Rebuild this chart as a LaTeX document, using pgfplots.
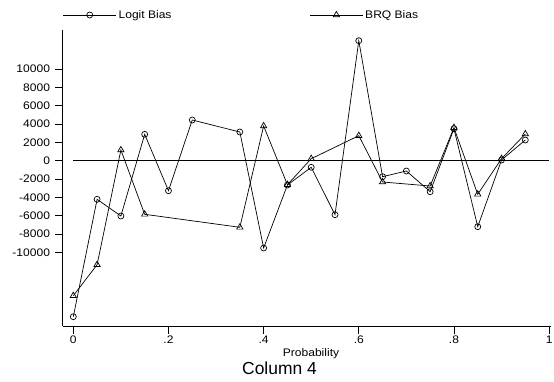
\documentclass[border=0pt]{standalone}
\usepackage{pgfplots}
\pgfplotsset{compat=1.18}
\usepackage{pgfplotstable}
\usepackage{fontspec}
\setmainfont{Liberation Sans}
\newfontfamily\sm[FakeStretch=1.1]{Liberation Sans}

\pgfplotstableread{
x y
0.00 -17012
0.05 -4210
0.10 -6031
0.15 2879
0.20 -3272
0.25 4438
0.35 3130
0.40 -9520
0.45 -2650
0.50 -720
0.55 -5890
0.60 13086
0.65 -1745
0.70 -1123
0.75 -3380
0.80 3490
0.85 -7197
0.90 76
0.95 2257
}\logit

\pgfplotstableread{
x y
0.00 -14722
0.05 -11341
0.10 1167
0.15 -5845
0.35 -7263
0.40 3784
0.45 -2617
0.50 218
0.60 2726
0.65 -2323
0.75 -2759
0.80 3599
0.85 -3664
0.90 218
0.95 2912
}\brq

\begin{document}
\begin{tikzpicture}[x=1bp,y=1bp]
\useasboundingbox (0,0) rectangle (554,381);
\begin{axis}[
  at={(62.7bp,55bp)}, anchor=south west,
  scale only axis, width=488.3bp, height=296bp,
  xmin=-0.0223, xmax=1.004, ymin=-18026, ymax=14253,
  scaled y ticks=false, scaled x ticks=false,
  axis x line*=bottom, axis y line*=left,
  axis line style={-, line width=0.8bp, black},
  tick align=outside, major tick length=7.5bp,
  tick style={line width=0.8bp, black},
  xtick={0,0.2,0.4,0.6,0.8,1},
  xticklabels={0,.2,.4,.6,.8,1},
  ytick={-10000,-8000,-6000,-4000,-2000,0,2000,4000,6000,8000,10000},
  yticklabels={-10000,-8000,-6000,-4000,-2000,0,2000,4000,6000,8000,10000},
  tick label style={font=\sm\fontsize{11}{13}\selectfont},
  yticklabel style={inner sep=0pt, xshift=-5bp},
  xticklabel style={inner sep=0pt, yshift=-2bp},
  xlabel={Probability},
  x label style={at={(axis description cs:0.5085,0)}, anchor=base, yshift=-30.7bp, inner sep=0pt, font=\sm\fontsize{11}{13}\selectfont},
  legend columns=2,
  legend style={at={(0,1.0507)}, anchor=west, draw=none, fill=none, inner sep=0pt,
    column sep=0pt, font=\sm\fontsize{11}{13}\selectfont,
    nodes={inner xsep=2bp, inner ysep=1bp},
    /tikz/every even column/.append style={column sep=136bp}},
  legend cell align=left,
  legend image code/.code={\draw[mark repeat=2,mark phase=2] plot coordinates {(0bp,0bp) (26.5bp,0bp) (53bp,0bp)};},
  clip=false,
]
\addplot[black, line width=0.7bp, mark=o, mark size=3bp, mark options={solid, line width=0.7bp}] table[x=x,y=y] {\logit};
\addlegendentry{Logit Bias}
\addplot[black, line width=0.7bp, mark=triangle, mark size=3.6bp, mark options={solid, line width=0.7bp}] table[x=x,y=y] {\brq};
\addlegendentry{BRQ Bias}
\addplot[black, line width=0.8bp, forget plot] coordinates {(0,0) (1,0)};
\node[anchor=base, inner sep=0pt, font=\fontsize{17.5}{20}\selectfont] at (axis description cs:0.444,-0.1632) {Column 4};
\end{axis}
\end{tikzpicture}
\end{document}
